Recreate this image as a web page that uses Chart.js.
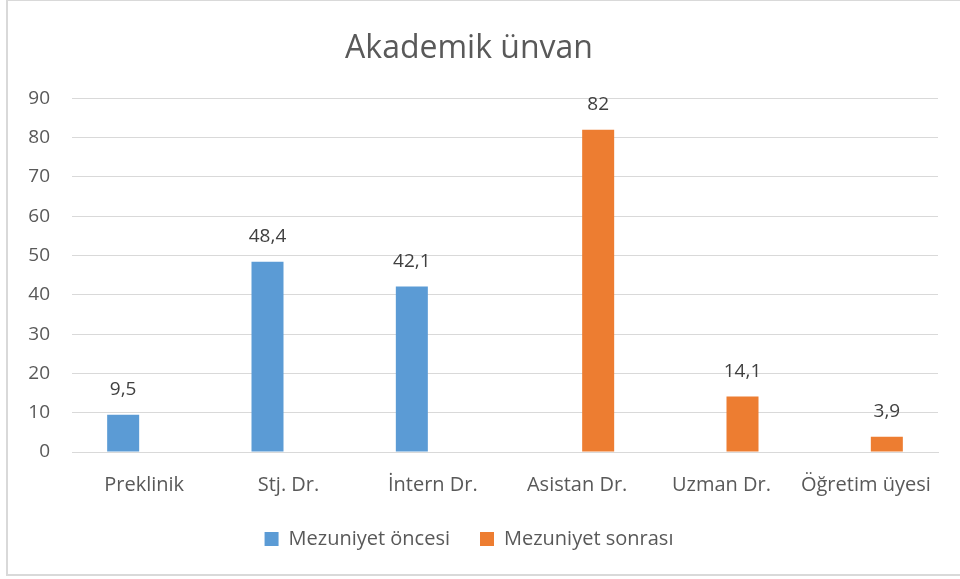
<!DOCTYPE html>
<html>
<head>
<meta charset="utf-8">
<script src="https://cdn.jsdelivr.net/npm/chart.js@4/dist/chart.umd.min.js"></script>
<style>
  html, body { margin: 0; padding: 0; background: #fff; }
  #wrap { position: relative; width: 960px; height: 579px; overflow: hidden; }
  #frame { position: absolute; left: 6px; top: -1px; width: 970px; height: 577px; border: 2px solid #d9d9d9; box-sizing: border-box; }
  canvas { position: absolute; left: 0; top: 0; }
</style>
</head>
<body>
<div id="wrap">
  <div id="frame"></div>
  <canvas id="c" width="960" height="579"></canvas>
</div>
<script>
const categories = ["Preklinik", "Stj. Dr.", "İntern Dr.", "Asistan Dr.", "Uzman Dr.", "Öğretim üyesi"];
const oncesi = [9.5, 48.4, 42.1, null, null, null];
const sonrasi = [null, null, null, 82, 14.1, 3.9];
const seriesNames = ["Mezuniyet öncesi", "Mezuniyet sonrası"];
const yTicks = [0, 10, 20, 30, 40, 50, 60, 70, 80, 90];

const FONT = "'Open Sans', 'Noto Sans', sans-serif";
const TEXT = "#595959";

const valueLabels = {
  id: 'valueLabels',
  afterDatasetsDraw(chart) {
    const ctx = chart.ctx;
    ctx.save();
    ctx.font = "19px " + FONT;
    ctx.fillStyle = "#404040";
    ctx.textAlign = "center";
    ctx.textBaseline = "middle";
    chart.data.datasets.forEach((ds, di) => {
      const meta = chart.getDatasetMeta(di);
      meta.data.forEach((bar, i) => {
        const v = ds.data[i];
        if (v === null || v === undefined) return;
        ctx.fillText(String(v).replace('.', ','), bar.x, bar.y - 25);
      });
    });
    ctx.restore();
  }
};

new Chart(document.getElementById('c'), {
  type: 'bar',
  data: {
    labels: categories,
    datasets: [
      { label: seriesNames[0], data: oncesi, backgroundColor: "#5B9BD5", borderWidth: 0 },
      { label: seriesNames[1], data: sonrasi, backgroundColor: "#ED7D31", borderWidth: 0 }
    ]
  },
  options: {
    responsive: false,
    animation: false,
    devicePixelRatio: 1,
    categoryPercentage: 0.582,
    barPercentage: 0.762,
    layout: { padding: { left: 0, right: 22, top: 12, bottom: 20 } },
    plugins: {
      title: {
        display: true,
        text: "Akademik ünvan",
        color: TEXT,
        font: { family: FONT, size: 32, weight: 'normal' },
        padding: { top: 18, bottom: 30 }
      },
      legend: {
        display: true,
        position: 'bottom',
        labels: {
          color: TEXT,
          font: { family: FONT, size: 20 },
          boxWidth: 14,
          boxHeight: 14,
          padding: 30
        }
      },
      tooltip: { enabled: false }
    },
    scales: {
      x: {
        afterFit(scale) { scale.height = 47; },
        grid: { display: false, drawTicks: false },
        border: { display: true, color: "#d9d9d9", width: 1 },
        ticks: { color: TEXT, font: { family: FONT, size: 20 }, padding: 21, maxRotation: 0 }
      },
      y: {
        min: 0,
        max: 90,
        afterBuildTicks(scale) { scale.ticks = yTicks.map(v => ({ value: v })); },
        afterFit(scale) { scale.width = 72; },
        grid: { color: "#d9d9d9", lineWidth: 1, drawTicks: false },
        border: { display: false },
        ticks: { color: TEXT, font: { family: FONT, size: 19 }, padding: 22 }
      }
    }
  },
  plugins: [valueLabels]
});
</script>
</body>
</html>
